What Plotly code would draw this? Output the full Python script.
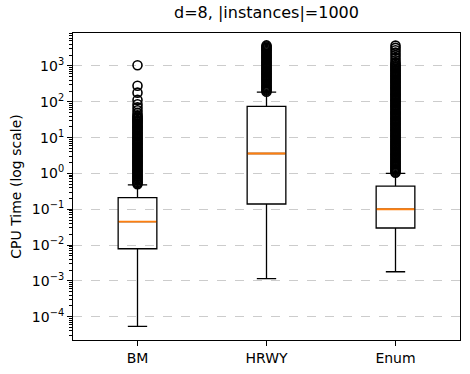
import plotly.graph_objects as go

# box statistics (CPU time, seconds)
methods = ["BM", "HRWY", "Enum"]
lower_whisker = [5.4e-5, 0.00115, 0.0018]
q1_vals = [0.0079, 0.14, 0.030]
median_vals = [0.045, 3.6, 0.10]
q3_vals = [0.21, 74, 0.44]
upper_whisker = [0.48, 186, 1.0]

# fliers
bm_outliers = [0.50, 0.54, 0.58, 0.63, 0.68, 0.73, 0.79, 0.85, 0.92, 0.99, 1.07, 1.16,
               1.25, 1.35, 1.46, 1.58, 1.7, 1.85, 2.0, 2.15, 2.3, 2.5, 2.7, 2.9, 3.1,
               3.35, 3.6, 3.9, 4.2, 4.55, 4.9, 5.3, 5.7, 6.2, 6.7, 7.2, 7.8, 8.4, 9.1,
               9.8, 10.6, 11.5, 12.4, 13.4, 14.5, 15.7, 17, 18.4, 19.8, 21.4, 23, 25,
               27, 29, 31, 33.5, 36, 39, 42, 49, 58, 70, 85, 113, 180, 280, 1050]
hrwy_outliers = [190, 205, 220, 237, 255, 275, 300, 325, 350, 380, 410, 445, 480, 520,
                 560, 605, 650, 700, 760, 820, 880, 950, 1030, 1110, 1200, 1300, 1400,
                 1510, 1630, 1760, 1900, 2050, 2200, 2400, 2600, 2800, 3000, 3250, 3500,
                 3750]
enum_outliers = [1.05, 1.12, 1.2, 1.3, 1.4, 1.52, 1.65, 1.77, 1.9, 2.05, 2.2, 2.4, 2.6,
                 2.8, 3.0, 3.25, 3.5, 3.8, 4.1, 4.45, 4.8, 5.2, 5.6, 6.0, 6.5, 7.0, 7.6,
                 8.2, 8.9, 9.6, 10.4, 11.2, 12.1, 13.1, 14.1, 15.3, 16.5, 17.8, 19.2,
                 20.8, 22.4, 24.2, 26, 28.2, 30.5, 33, 35.5, 38.5, 41.5, 44.8, 48, 52,
                 56, 61, 66, 71, 77, 83, 90, 97, 105, 113, 122, 132, 142, 154, 166, 180,
                 194, 210, 226, 245, 264, 285, 308, 333, 360, 390, 420, 455, 490, 530,
                 570, 620, 670, 720, 780, 845, 910, 985, 1060, 1150, 1240, 1450, 1700,
                 2000, 2350, 2750, 3200, 3700]
outliers = [bm_outliers, hrwy_outliers, enum_outliers]

major_exps = [-4, -3, -2, -1, 0, 1, 2, 3]

positions = [1, 2, 3]
box_w = 0.3

fig = go.Figure()
for i, name in enumerate(methods):
    p = positions[i]
    fig.add_trace(go.Box(
        x=[p], q1=[q1_vals[i]], median=[median_vals[i]], q3=[q3_vals[i]],
        lowerfence=[lower_whisker[i]], upperfence=[upper_whisker[i]],
        width=box_w, whiskerwidth=0.5, boxpoints=False,
        line=dict(color="black", width=1.3), fillcolor="rgba(0,0,0,0)",
        name=name, showlegend=False, hoverinfo="skip"))
    # orange median drawn over the box's own median line
    fig.add_trace(go.Scatter(
        x=[p - box_w / 2 + 0.004, p + box_w / 2 - 0.004], y=[median_vals[i], median_vals[i]],
        mode="lines", line=dict(color="#ff7f0e", width=1.9),
        showlegend=False, hoverinfo="skip"))
    fig.add_trace(go.Scatter(
        x=[p] * len(outliers[i]), y=outliers[i], mode="markers",
        marker=dict(symbol="circle-open", size=9, color="black",
                    line=dict(width=1.6, color="black")),
        showlegend=False, hoverinfo="skip"))

minor_vals = []
for e in range(-5, 4):
    for m in range(2, 10):
        minor_vals.append(m * 10 ** e)

fig.update_layout(
    width=470, height=374,
    margin=dict(l=73, r=10, t=33, b=34),
    paper_bgcolor="white", plot_bgcolor="white",
    font=dict(family="DejaVu Sans", size=14, color="black"),
    title=dict(text="d=8, |instances|=1000", xref="paper", x=0.5, xanchor="center",
               yref="container", y=0.968, yanchor="middle", font=dict(size=16)),
)
fig.update_xaxes(
    range=[0.5, 3.5], tickvals=positions, ticktext=methods, automargin=False,
    showline=True, mirror=True, linecolor="black", linewidth=1.1,
    ticks="outside", ticklen=5, tickcolor="black", showgrid=False, zeroline=False,
)
fig.update_yaxes(
    type="log", range=[-4.65, 3.92], automargin=False,
    tickvals=[10 ** e for e in major_exps],
    ticktext=["10<sup>" + str(e).replace("-", "\u2212") + "</sup>" for e in major_exps],
    showline=True, mirror=True, linecolor="black", linewidth=1.1,
    ticks="outside", ticklen=5, tickcolor="black",
    showgrid=True, gridcolor="#cccccc", griddash="dash", gridwidth=1,
    minor=dict(tickvals=minor_vals, ticks="outside", ticklen=3, tickcolor="black",
               showgrid=False),
    title=dict(text="CPU Time (log scale)", font=dict(size=14), standoff=6),
    zeroline=False,
)

# drop the browser's default body margin so the figure sits at the page corner
fig.write_html("out.html", config={"displayModeBar": False},
               post_script="document.body.style.margin='0';")
